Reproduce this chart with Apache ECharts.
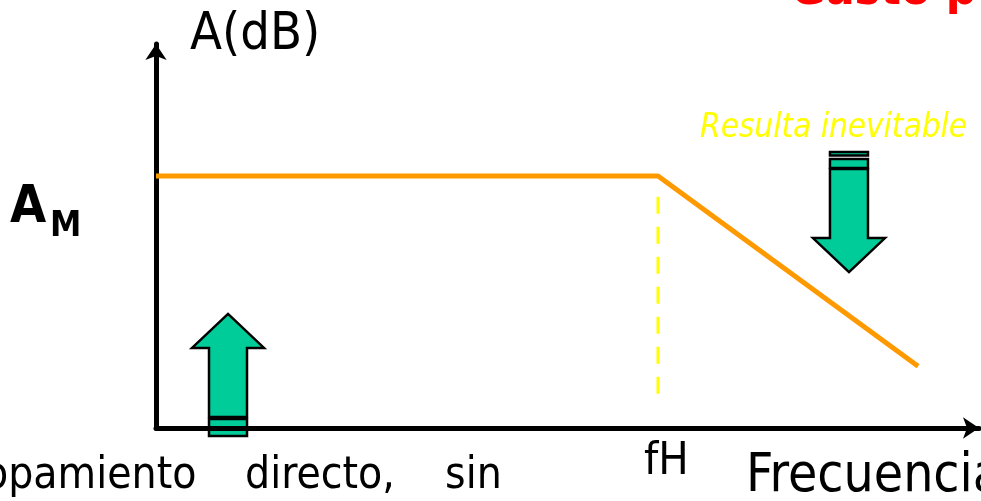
<!DOCTYPE html>
<html>
<head>
<meta charset="utf-8">
<script src="https://cdn.jsdelivr.net/npm/echarts@6/dist/echarts.min.js"></script>
<style>
html,body{margin:0;padding:0;background:#fff;}
#chart{width:981px;height:501px;}
</style>
</head>
<body>
<div id="chart"></div>
<script>
// Response curve (arbitrary units: x = log-frequency position, y = gain)
const freqPoints = [0, 61.0, 92.6];
const gainPoints = [65.6, 65.6, 16.1];
// fH marker
const fHPos = 61.0;
const fHDashY = [60.2, 8.6];
// Arrow anchors [x, tip y]
const upArrow = [8.75, 29.7];
const downArrow = [84.2, 40.6];
// Texts
const yAxisTitle = 'A(dB)';
const xAxisTitle = 'Frecuencia';
const fHLabel = 'fH';
const amLabelMain = 'A';
const amLabelSub = 'M';
const noteText = 'Resulta inevitable';
const topRedText = 'Gasto p';
const bottomWords = ['opamiento', 'directo,', 'sin'];

const FONT = "'DejaVu Sans Condensed', 'DejaVu Sans', Tahoma, sans-serif";
const chart = echarts.init(document.getElementById('chart'), null, {renderer: 'canvas'});

function arrowShape(api, anchor, dir) {
  const p = api.coord(anchor);
  const cx = p[0], ty = p[1];
  const s = dir; // 1 = up (tip on top), -1 = down
  const headH = 34, headW = 36, shaftW = 19, shaftL = 103;
  const pts = [
    [cx, ty],
    [cx + headW, ty + s * headH],
    [cx + shaftW, ty + s * headH],
    [cx + shaftW, ty + s * shaftL],
    [cx - shaftW, ty + s * shaftL],
    [cx - shaftW, ty + s * headH],
    [cx - headW, ty + s * headH]
  ];
  const style = {fill: '#00CC99', stroke: '#000', lineWidth: 2.5};
  const children = [{type: 'polygon', shape: {points: pts}, style: style}];
  if (dir === 1) {
    children.push({type: 'rect', shape: {x: cx - shaftW, y: ty + 105, width: 2 * shaftW, height: 17}, style: style});
  } else {
    children.push({type: 'rect', shape: {x: cx - shaftW, y: ty - 113, width: 2 * shaftW, height: 9}, style: style});
    children.push({type: 'rect', shape: {x: cx - shaftW, y: ty - 120, width: 2 * shaftW, height: 3.5}, style: style});
  }
  return {type: 'group', children: children};
}

const option = {
  animation: false,
  backgroundColor: '#fff',
  grid: {left: 156, right: 2, top: 44, bottom: 73, containLabel: false},
  xAxis: {
    type: 'value', min: 0, max: 100, z: 5,
    axisLine: {show: true, onZero: false, lineStyle: {color: '#000', width: 5}, symbol: ['none', 'arrow'], symbolSize: [16, 16]},
    axisTick: {show: false}, axisLabel: {show: false}, splitLine: {show: false}
  },
  yAxis: {
    type: 'value', min: 0, max: 100, z: 5,
    axisLine: {show: true, onZero: false, lineStyle: {color: '#000', width: 5}, symbol: ['none', 'arrow'], symbolSize: [16, 16]},
    axisTick: {show: false}, axisLabel: {show: false}, splitLine: {show: false}
  },
  series: [
    {
      type: 'custom', z: 1,
      renderItem: function (params, api) {
        return arrowShape(api, [api.value(0), api.value(1)], api.value(2));
      },
      data: [[upArrow[0], upArrow[1], 1], [downArrow[0], downArrow[1], -1]]
    },
    {
      type: 'line', z: 3, symbol: 'none',
      data: fHDashY.map(v => [fHPos, v]),
      lineStyle: {color: '#FFFF00', width: 3, type: [17, 13]}
    },
    {
      type: 'line', z: 6, symbol: 'none',
      data: freqPoints.map((x, i) => [x, gainPoints[i]]),
      lineStyle: {color: '#FF9900', width: 5}
    }
  ],
  graphic: [
    {type: 'text', left: 190, top: 9, style: {text: yAxisTitle, font: '52px ' + FONT, fill: '#000'}},
    {type: 'text', left: 10, top: 182, style: {text: amLabelMain, font: 'bold 52px ' + FONT, fill: '#000'}},
    {type: 'text', left: 50, top: 209, style: {text: amLabelSub, font: 'bold 35px ' + FONT, fill: '#000'}},
    {type: 'text', left: 644, top: 440, style: {text: fHLabel, font: '45px ' + FONT, fill: '#000'}},
    {type: 'text', left: 746, top: 451, style: {text: xAxisTitle, font: '53px ' + FONT, fill: '#000'}},
    {type: 'text', left: 700, top: 112, style: {text: noteText, font: 'italic 33px ' + FONT, fill: '#FFFF00'}},
    {type: 'text', left: 790, top: -32, style: {text: topRedText, font: 'bold 48px ' + FONT, fill: '#FF0000'}},
    {type: 'text', left: -16, top: 455, style: {text: bottomWords[0], font: '44px ' + FONT, fill: '#000'}},
    {type: 'text', left: 245, top: 455, style: {text: bottomWords[1], font: '44px ' + FONT, fill: '#000'}},
    {type: 'text', left: 445, top: 455, style: {text: bottomWords[2], font: '44px ' + FONT, fill: '#000'}}
  ]
};
chart.setOption(option);
</script>
</body>
</html>
